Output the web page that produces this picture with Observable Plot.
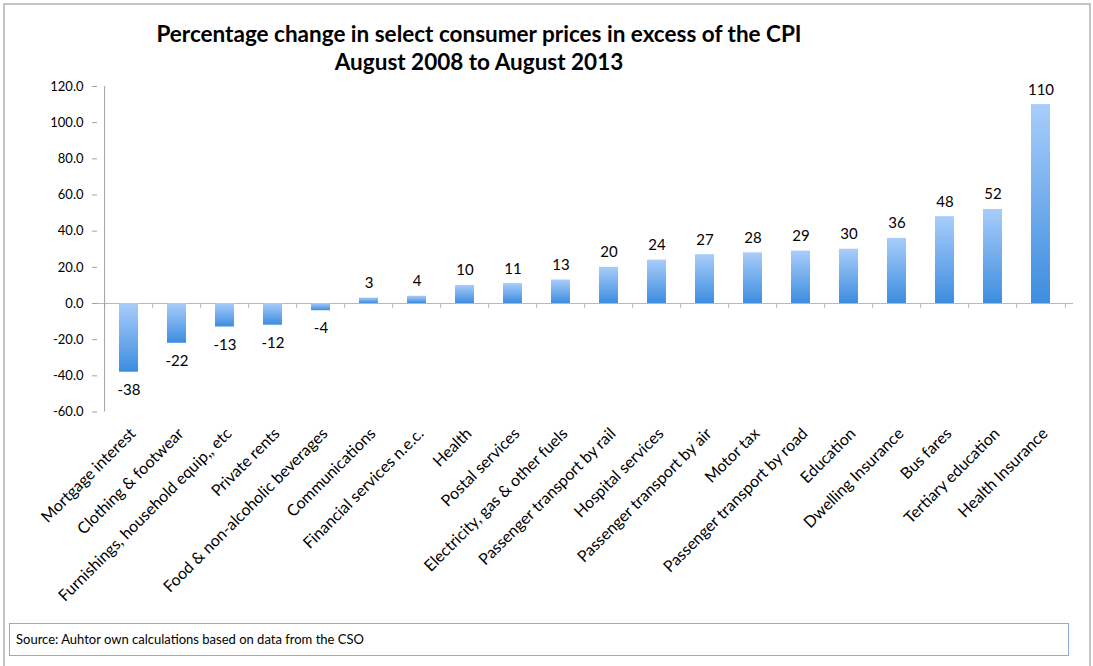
<!DOCTYPE html>
<html>
<head>
<meta charset="utf-8">
<script src="https://cdn.jsdelivr.net/npm/d3@7"></script>
<script src="https://cdn.jsdelivr.net/npm/@observablehq/plot@0.6"></script>
<style>
  html, body { margin: 0; padding: 0; background: #fff; }
  #frame { position: relative; width: 1093px; height: 666px; font-family: Lato, "Open Sans", sans-serif; }
  #border { position: absolute; left: 3px; top: 3px; width: 1088px; height: 670px; border: 2px solid #c4c4c4; box-sizing: border-box; }
  #title { position: absolute; left: 0; top: 20px; width: 958px; text-align: center; font-weight: bold; font-size: 22.5px; line-height: 28px; color: #000; }
  #chart { position: absolute; left: 0; top: 75px; }
  #source { position: absolute; left: 9px; top: 623px; width: 1060px; height: 33px; border: 1px solid #86aee0; box-sizing: border-box; font-size: 13px; line-height: 31px; padding-left: 6px; color: #000; background: #fff; }
</style>
</head>
<body>
<div id="frame">
  <div id="border"></div>
  <div id="title">Percentage change in select consumer prices in excess of the CPI<br>August 2008 to August 2013</div>
  <div id="chart"></div>
  <div id="source">Source: Auhtor own calculations based on data from the CSO</div>
</div>
<script>
const categories = [
  "Mortgage interest", "Clothing & footwear", "Furnishings, household equip,, etc",
  "Private rents", "Food & non-alcoholic beverages", "Communications",
  "Financial services n.e.c.", "Health", "Postal services",
  "Electricity, gas & other fuels", "Passenger transport by rail", "Hospital services",
  "Passenger transport by air", "Motor tax", "Passenger transport by road",
  "Education", "Dwelling Insurance", "Bus fares", "Tertiary education", "Health Insurance"
];
const values = [-38, -22, -13, -12, -4, 3, 4, 10, 11, 13, 20, 24, 27, 28, 29, 30, 36, 48, 52, 110];
const yTicks = [-60, -40, -20, 0, 20, 40, 60, 80, 100, 120];

const data = categories.map((c, i) => ({category: c, value: values[i]}));

const W = 1093, H = 545, ML = 97, MR = 20, MT = 11, MB = 208.5;
const step = (W - ML - MR) / categories.length;

const defs = () => {
  const d = d3.create("svg:defs");
  const g = d.append("linearGradient").attr("id", "barGrad").attr("x1", 0).attr("y1", 0).attr("x2", 0).attr("y2", 1);
  g.append("stop").attr("offset", "0%").attr("stop-color", "#a8cdfa");
  g.append("stop").attr("offset", "100%").attr("stop-color", "#3d8ddf");
  return d.node();
};

const chart = Plot.plot({
  width: W,
  height: H,
  marginLeft: ML,
  marginRight: MR,
  marginTop: MT,
  marginBottom: MB,
  style: {fontFamily: "Lato, 'Open Sans', sans-serif", color: "#000", background: "transparent", overflow: "visible"},
  x: {domain: categories, paddingInner: 0.6, paddingOuter: 0.3, label: null},
  y: {domain: [-60, 120], ticks: yTicks, label: null},
  marks: [
    defs,
    Plot.ruleY([0], {stroke: "#b8b8b8", strokeWidth: 1}),
    Plot.ruleX(categories, {x: d => d, y1: 0, y2: -2.8, dx: -step / 2, stroke: "#b8b8b8"}),
    Plot.ruleX([categories[categories.length - 1]], {x: d => d, y1: 0, y2: -2.8, dx: step / 2, stroke: "#b8b8b8"}),
    Plot.ruleX([categories[0]], {x: d => d, y1: -60, y2: 120, dx: -step / 2, stroke: "#a0a0a0"}),
    Plot.barY(data, {x: "category", y: "value", fill: "url(#barGrad)"}),
    Plot.text(data, {x: "category", y: "value", text: d => String(d.value),
      fontSize: 15, fill: "#000", lineAnchor: "bottom", filter: d => d.value >= 0, dy: -10}),
    Plot.text(data, {x: "category", y: "value", text: d => String(d.value),
      fontSize: 15, fill: "#000", lineAnchor: "top", filter: d => d.value < 0, dy: 12}),
    Plot.axisY({ticks: yTicks, tickFormat: d => d.toFixed(1), tickSize: 5, tickPadding: 9, fontSize: 13, stroke: "#a0a0a0", fill: "#000"}),
    Plot.axisX({anchor: "bottom", tickSize: 0, tickRotate: -45, tickPadding: 19, fontSize: 16, fill: "#000", dx: 4})
  ]
});
document.getElementById("chart").appendChild(chart);
</script>
</body>
</html>
